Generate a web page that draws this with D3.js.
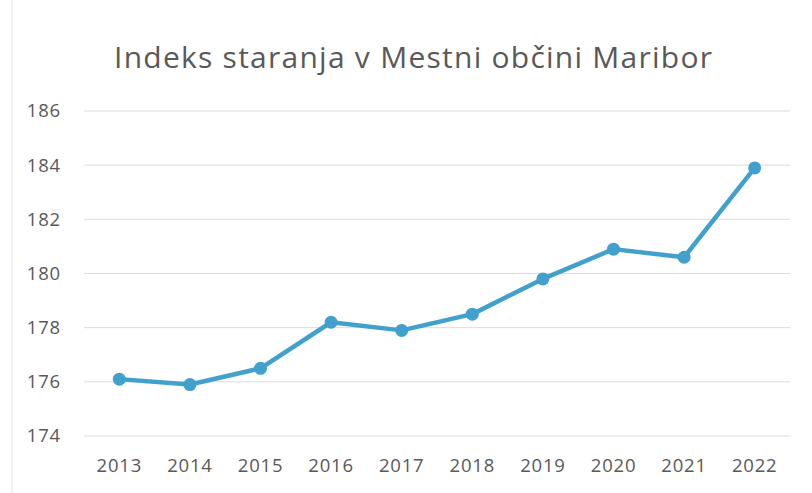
<!DOCTYPE html>
<html><head><meta charset="utf-8">
<script src="https://cdn.jsdelivr.net/npm/d3@7"></script>
<style>body{margin:0;background:#fff;} svg{display:block;}</style>
</head><body>
<svg id="chart" width="812" height="493"></svg>
<script>
const title = "Indeks staranja v Mestni občini Maribor";
const years = ["2013","2014","2015","2016","2017","2018","2019","2020","2021","2022"];
const values = [176.1, 175.9, 176.5, 178.2, 177.9, 178.5, 179.8, 180.9, 180.6, 183.9];
const yTicks = [174, 176, 178, 180, 182, 184, 186];

const svg = d3.select("#chart");
const W = 812, H = 493;
const m = {left: 84, right: 22, top: 111, bottom: 57};

svg.append("rect").attr("x",0).attr("y",0).attr("width",W).attr("height",H).attr("fill","#fff");
svg.append("line").attr("x1",12).attr("x2",12).attr("y1",0).attr("y2",H).attr("stroke","#ececec").attr("stroke-width",1.5);

const x = d3.scaleBand().domain(years).range([m.left, W - m.right]);
const y = d3.scaleLinear().domain([174, 186]).range([H - m.bottom, m.top]);

// gridlines
svg.append("g").selectAll("line").data(yTicks).join("line")
  .attr("x1", m.left).attr("x2", W - m.right)
  .attr("y1", d => y(d)).attr("y2", d => y(d))
  .attr("stroke", "#dcdcdc").attr("stroke-width", 1);

// y axis
const yAxis = svg.append("g").attr("transform", `translate(${m.left - 23},0)`)
  .call(d3.axisLeft(y).tickValues(yTicks).tickSize(0).tickPadding(0).tickFormat(d3.format("d")));
yAxis.select(".domain").remove();
yAxis.selectAll("text").attr("font-family","'Open Sans', sans-serif").attr("font-size",18.5)
  .attr("letter-spacing","0.8px").attr("fill","#595959");

// x axis
const xAxis = svg.append("g").attr("transform", `translate(0,${H - m.bottom + 19})`)
  .call(d3.axisBottom(x).tickSize(0).tickPadding(0));
xAxis.select(".domain").remove();
xAxis.selectAll("text").attr("font-family","'Open Sans', sans-serif").attr("font-size",18.5)
  .attr("letter-spacing","0.8px").attr("fill","#595959").attr("dy","0.9em");

// line
const line = d3.line().x((d,i) => x(years[i]) + x.bandwidth()/2).y(d => y(d));
svg.append("path").datum(values).attr("d", line)
  .attr("fill","none").attr("stroke","#42a0cd").attr("stroke-width",4.5).attr("stroke-linejoin","round");
svg.append("g").selectAll("circle").data(values).join("circle")
  .attr("cx", (d,i) => x(years[i]) + x.bandwidth()/2).attr("cy", d => y(d))
  .attr("r", 6.5).attr("fill","#42a0cd");

// title
svg.append("text").attr("x", 413).attr("y", 68).attr("text-anchor","middle")
  .attr("font-family","'Open Sans', sans-serif").attr("font-size",30).attr("fill","#595959")
  .attr("textLength", 598).attr("lengthAdjust","spacing")
  .text(title);
</script>
</body></html>
